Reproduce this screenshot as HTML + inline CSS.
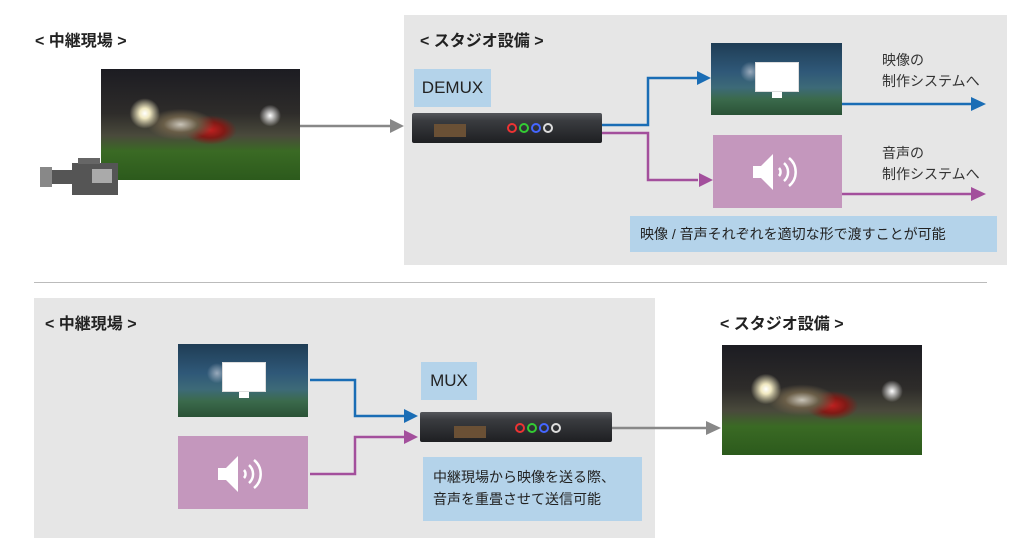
<!DOCTYPE html>
<html><head><meta charset="utf-8"><style>
*{margin:0;padding:0;box-sizing:border-box}
body{width:1024px;height:552px;background:#fff;position:relative;overflow:hidden;font-family:"Liberation Sans","Noto Sans CJK JP",sans-serif;color:#222}
.a{position:absolute}
.panel{background:#e6e6e6}
.t{font-weight:bold;font-size:16px}
.lbl{background:#b4d3ea;font-size:17px;display:flex;align-items:center;justify-content:center}
.photo{background:radial-gradient(circle at 22% 40%,#fff 0,#f0e8c0 3%,transparent 9%),radial-gradient(circle at 85% 42%,#fff 0,transparent 6%),radial-gradient(ellipse at 40% 50%,#c9c4b8 0,#6a5e48 10%,transparent 20%),radial-gradient(ellipse at 55% 55%,#c02020 0,#801a15 9%,transparent 17%),linear-gradient(180deg,#1c1c22 0,#2e2c2a 40%,#4a4a3c 60%,#3a6a24 74%,#2c5a1c 100%)}
.mon{background:radial-gradient(circle at 30% 40%,#9ab 0,transparent 10%),linear-gradient(180deg,#1f3d55 0,#2f5878 40%,#3d6a78 62%,#3b6a4c 78%,#2a5236 100%)}
.pur{background:#c497bd}
.cap{background:#b4d3ea;font-size:14px;color:#222;line-height:22px}
.dev{background:linear-gradient(180deg,#55575c 0,#3a3c40 25%,#1e1f22 100%);border-radius:2px}
.side{font-size:14px;color:#333;line-height:21px}
</style></head><body>
<div class="a t" style="left:35px;top:27px">&lt; 中継現場 &gt;</div>
<div class="a panel" style="left:404px;top:15px;width:603px;height:250px"></div>
<div class="a t" style="left:420px;top:27px">&lt; スタジオ設備 &gt;</div>
<div class="a photo" style="left:101px;top:69px;width:199px;height:111px"></div>
<div class="a" style="left:40px;top:167px;width:12px;height:20px;background:#888"></div>
<div class="a" style="left:52px;top:170px;width:20px;height:14px;background:#555"></div>
<div class="a" style="left:72px;top:163px;width:46px;height:32px;background:#555"></div>
<div class="a" style="left:78px;top:158px;width:22px;height:6px;background:#666"></div>
<div class="a" style="left:92px;top:169px;width:20px;height:14px;background:#aaa"></div>
<div class="a lbl" style="left:414px;top:69px;width:77px;height:38px">DEMUX</div>
<div class="a dev" style="left:412px;top:113px;width:190px;height:30px"></div>
<div class="a" style="left:434px;top:124px;width:32px;height:13px;background:#6a5035"></div>
<div class="a mon" style="left:711px;top:43px;width:131px;height:72px"></div>
<div class="a" style="left:755px;top:62px;width:44px;height:30px;background:#fff;border:1px solid #ddd"></div>
<div class="a" style="left:772px;top:92px;width:10px;height:6px;background:#fff"></div>
<div class="a pur" style="left:713px;top:135px;width:129px;height:73px"></div>
<div class="a side" style="left:882px;top:50px">映像の<br>制作システムへ</div>
<div class="a side" style="left:882px;top:143px">音声の<br>制作システムへ</div>
<div class="a cap" style="left:630px;top:216px;width:367px;height:36px;padding:7px 0 0 10px">映像 / 音声それぞれを適切な形で渡すことが可能</div>

<div class="a" style="left:34px;top:282px;width:953px;height:1px;background:#bbb"></div>

<div class="a panel" style="left:34px;top:298px;width:621px;height:240px"></div>
<div class="a t" style="left:45px;top:310px">&lt; 中継現場 &gt;</div>
<div class="a t" style="left:720px;top:310px">&lt; スタジオ設備 &gt;</div>
<div class="a mon" style="left:178px;top:344px;width:130px;height:73px"></div>
<div class="a" style="left:222px;top:362px;width:44px;height:30px;background:#fff;border:1px solid #ddd"></div>
<div class="a" style="left:239px;top:392px;width:10px;height:6px;background:#fff"></div>
<div class="a pur" style="left:178px;top:436px;width:130px;height:73px"></div>
<div class="a lbl" style="left:421px;top:362px;width:56px;height:38px">MUX</div>
<div class="a dev" style="left:420px;top:412px;width:192px;height:30px"></div>
<div class="a" style="left:454px;top:426px;width:32px;height:12px;background:#6a5035"></div>
<div class="a cap" style="left:423px;top:457px;width:219px;height:64px;padding:9px 0 0 10px">中継現場から映像を送る際、<br>音声を重畳させて送信可能</div>
<div class="a photo" style="left:722px;top:345px;width:200px;height:110px"></div>

<svg class="a" style="left:0;top:0" width="1024" height="552">
<g fill="none" stroke-width="2.5">
<path d="M300 126H392" stroke="#888"/>
<path d="M602 125H648V78H698" stroke="#1a6db5"/>
<path d="M602 133H648V180H698" stroke="#a34f9c"/>
<path d="M842 104H972" stroke="#1a6db5"/>
<path d="M842 194H972" stroke="#a34f9c"/>
<path d="M310 380H355V416H406" stroke="#1a6db5"/>
<path d="M310 474H355V437H406" stroke="#a34f9c"/>
<path d="M612 428H708" stroke="#888"/>
</g>
<polygon points="390,119 404,126 390,133" fill="#888"/>
<polygon points="697,71 711,78 697,85" fill="#1a6db5"/>
<polygon points="699,173 713,180 699,187" fill="#a34f9c"/>
<polygon points="971,97 986,104 971,111" fill="#1a6db5"/>
<polygon points="971,187 986,194 971,201" fill="#a34f9c"/>
<polygon points="404,409 418,416 404,423" fill="#1a6db5"/>
<polygon points="404,430 418,437 404,444" fill="#a34f9c"/>
<polygon points="706,421 721,428 706,435" fill="#888"/>
<g fill="#fff"><polygon points="753,166 761,166 773,154 773,190 761,178 753,178"/>
<polygon points="218,468 226,468 238,456 238,492 226,480 218,480"/></g>
<g fill="none" stroke="#fff" stroke-width="2.5">
<path d="M779 168a6 6 0 0 1 0 8M784 163a12 12 0 0 1 0 18M789 158a18 18 0 0 1 0 28"/>
<path d="M244 470a6 6 0 0 1 0 8M249 465a12 12 0 0 1 0 18M254 460a18 18 0 0 1 0 28"/>
</g>
<g>
<circle cx="512" cy="128" r="4" fill="none" stroke="#e33" stroke-width="2"/><circle cx="524" cy="128" r="4" fill="none" stroke="#3c3" stroke-width="2"/><circle cx="536" cy="128" r="4" fill="none" stroke="#46f" stroke-width="2"/><circle cx="548" cy="128" r="4" fill="none" stroke="#ddd" stroke-width="2"/>
<circle cx="520" cy="428" r="4" fill="none" stroke="#e33" stroke-width="2"/><circle cx="532" cy="428" r="4" fill="none" stroke="#3c3" stroke-width="2"/><circle cx="544" cy="428" r="4" fill="none" stroke="#46f" stroke-width="2"/><circle cx="556" cy="428" r="4" fill="none" stroke="#ddd" stroke-width="2"/>
</g>
</svg>
</body></html>
